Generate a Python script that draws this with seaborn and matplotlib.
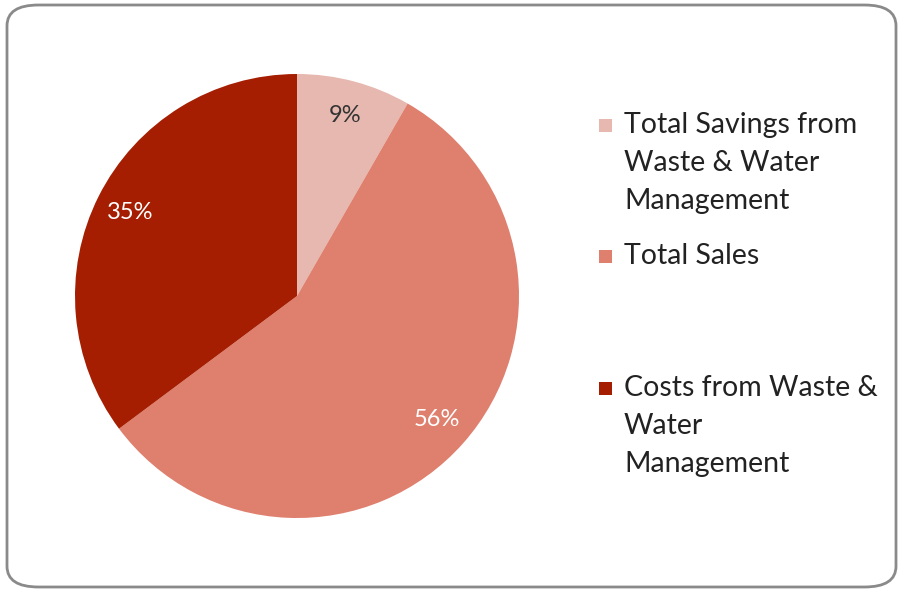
import matplotlib
matplotlib.use("Agg")
import matplotlib.pyplot as plt
import seaborn as sns
from matplotlib.patches import FancyBboxPatch, Rectangle

categories = ["Total Savings from\nWaste & Water\nManagement",
              "Total Sales",
              "Costs from Waste &\nWater\nManagement"]
values = [8.3, 56.5, 35.2]          # slice sizes as drawn
pct_labels = ["9%", "56%", "35%"]   # data labels as printed
colors = ["#E6B8AF", "#DF7F6D", "#A51E02"]
label_colors = ["#333333", "white", "white"]

sns.set_theme(style="white")
plt.rcParams['font.family'] = ['Lato', 'DejaVu Sans']

W, H = 901, 593
fig = plt.figure(figsize=(W / 100, H / 100), dpi=100)

# rounded border
border = FancyBboxPatch((7 / W, 6 / H), (889 / W), (582 / H),
                        boxstyle="round,pad=0,rounding_size=0.035",
                        transform=fig.transFigure, facecolor="none",
                        edgecolor="#8a8a8a", linewidth=2, zorder=-5)
fig.patches.append(border)

cx, cy, r = 297, 296, 222
ax = fig.add_axes([(cx - r) / W, (H - cy - r) / H, 2 * r / W, 2 * r / H])
ax.set_zorder(2)
ax.set_facecolor("none")
_lab_iter = iter(pct_labels)
wedges, texts, autotexts = ax.pie(values, colors=colors, startangle=90,
                                  counterclock=False,
                                  autopct=lambda p: next(_lab_iter),
                                  pctdistance=0.84, radius=1,
                                  wedgeprops=dict(linewidth=0),
                                  textprops=dict(fontsize=17))
for t, c in zip(autotexts, label_colors):
    t.set_color(c)
ax.set_xlim(-1, 1)
ax.set_ylim(-1, 1)
ax.set_aspect("equal")
ax.axis("off")

# legend (manual layout to match spacing)
entry_tops = [125, 256, 388]
line_h = 38
for lab, col, ytop in zip(categories, colors, entry_tops):
    fig.patches.append(Rectangle((599 / W, (H - ytop - 7) / H), 13 / W, 13 / H,
                                 transform=fig.transFigure, facecolor=col,
                                 edgecolor="none"))
    for i, line in enumerate(lab.split("\n")):
        fig.text(624 / W, (H - ytop - i * line_h) / H, line, fontsize=20.5,
                 color="#222222", va="center", ha="left")

fig.savefig("out.png", dpi=100)
